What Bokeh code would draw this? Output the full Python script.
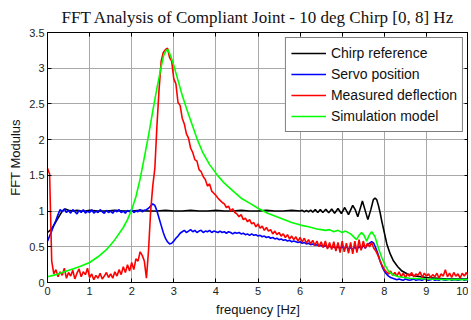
from bokeh.plotting import figure
from bokeh.models import Range1d, FixedTicker, Legend, LegendItem, LinearAxis
from bokeh.embed import file_html
from bokeh.resources import INLINE

# ---------------- data ----------------
title_text = "FFT Analysis of Compliant Joint - 10 deg Chirp [0, 8] Hz"
x_label = "frequency [Hz]"
y_label = "FFT Modulus"
series_names = ["Chirp reference", "Servo position", "Measured deflection", "Simulation model"]
x_ticks = [0, 1, 2, 3, 4, 5, 6, 7, 8, 9, 10]
y_ticks = [0, 0.5, 1, 1.5, 2, 2.5, 3, 3.5]
y_tick_labels = ["0", "0.5", "1", "1.5", "2", "2.5", "3", "3.5"]

# Chirp reference (black)
chirp_f = [0.0, 0.08, 0.15, 0.25, 0.35, 0.42, 0.5, 0.6, 0.7, 0.8, 0.9, 1.0, 1.2, 1.4, 1.6, 1.8, 2.0,
           2.2, 2.4, 2.6, 2.8, 3.0, 3.2, 3.4, 3.6, 3.8, 4.0, 4.2, 4.4, 4.6, 4.8, 5.0, 5.2, 5.4,
           5.6, 5.8, 6.0, 6.05, 6.10, 6.15, 6.20, 6.25, 6.30, 6.36, 6.42, 6.48, 6.54, 6.61, 6.68,
           6.75, 6.82, 6.90, 6.98, 7.06, 7.15, 7.25, 7.31, 7.37, 7.42, 7.48, 7.54, 7.61, 7.68,
           7.74, 7.78, 7.82, 7.86, 7.90, 7.94, 8.00, 8.06, 8.14, 8.22, 8.32, 8.42, 8.55, 8.74,
           9.0, 9.5, 10.0]
chirp_v = [0.70, 0.74, 0.80, 0.90, 1.00, 1.03, 1.01, 1.00, 1.01, 1.00, 1.00, 1.01, 1.00, 1.00, 1.01,
           1.00, 1.00, 1.01, 1.00, 1.00, 1.01, 1.00, 1.00, 1.01, 1.00, 1.00, 1.01, 1.00, 1.00, 1.01,
           1.00, 1.00, 1.01, 1.00, 1.00, 1.01, 1.00, 1.01, 0.99, 1.01, 0.99, 1.015, 0.985, 1.02,
           0.98, 1.02, 0.98, 1.025, 0.975, 1.03, 0.97, 1.035, 0.965, 1.05, 0.95, 1.08, 1.02, 0.92,
           1.02, 1.14, 1.02, 0.88, 1.02, 1.16, 1.18, 1.16, 1.08, 0.98, 0.86, 0.70, 0.54, 0.40, 0.30,
           0.22, 0.16, 0.12, 0.09, 0.07, 0.05, 0.05]

# Servo position (blue), 0..10 Hz every 0.05 Hz
servo_v = [0.58, 0.65, 0.72, 0.80, 0.87, 0.95, 1.02, 0.99, 1.03, 0.98, 1.01, 0.97, 1.02, 0.99, 0.96,
           1.01, 0.98, 1.02, 0.97, 1.00, 0.98, 1.02, 0.97, 1.00, 0.98, 1.02, 0.99, 0.97, 1.01, 0.98,
           1.00, 0.97, 1.01, 0.99, 1.02, 0.98, 1.00, 0.97, 1.01, 0.99, 1.02, 0.98, 1.00, 0.99, 1.02,
           0.99, 1.01, 1.02, 1.04, 1.07, 1.10, 1.08, 1.00, 0.90, 0.80, 0.70, 0.62, 0.57, 0.54, 0.55,
           0.58, 0.62, 0.65, 0.69, 0.71, 0.73, 0.70, 0.72, 0.74, 0.71, 0.73, 0.70, 0.72, 0.73, 0.70,
           0.72, 0.71, 0.73, 0.70, 0.72, 0.71, 0.70, 0.72, 0.70, 0.71, 0.69, 0.71, 0.70, 0.68, 0.70,
           0.69, 0.70, 0.68, 0.69, 0.67, 0.68, 0.66, 0.68, 0.66, 0.67, 0.65, 0.66, 0.64, 0.65, 0.63,
           0.64, 0.62, 0.63, 0.61, 0.62, 0.60, 0.61, 0.59, 0.60, 0.58, 0.59, 0.57, 0.58, 0.57, 0.56,
           0.57, 0.55, 0.56, 0.54, 0.55, 0.53, 0.54, 0.52, 0.53, 0.51, 0.52, 0.50, 0.52, 0.49, 0.51,
           0.49, 0.50, 0.48, 0.50, 0.48, 0.50, 0.47, 0.50, 0.47, 0.49, 0.46, 0.50, 0.46, 0.51, 0.47,
           0.52, 0.48, 0.53, 0.55, 0.57, 0.55, 0.48, 0.40, 0.30, 0.22, 0.16, 0.12, 0.09, 0.07, 0.06,
           0.05, 0.04, 0.05, 0.04, 0.03, 0.05, 0.04, 0.03, 0.04, 0.05, 0.03, 0.04, 0.04, 0.03, 0.05,
           0.04, 0.03, 0.04, 0.05, 0.03, 0.04, 0.03, 0.05, 0.04, 0.03, 0.04, 0.05, 0.03, 0.04, 0.04,
           0.03, 0.04, 0.05, 0.03, 0.04, 0.04]

# Measured deflection (red), 0..10 Hz every 0.05 Hz
meas_v = [1.60, 1.52, 0.30, 0.12, 0.18, 0.08, 0.15, 0.10, 0.20, 0.06, 0.14, 0.09, 0.17, 0.05, 0.13,
          0.19, 0.08, 0.15, 0.11, 0.20, 0.07, 0.12, 0.04, 0.10, 0.06, 0.13, 0.05, 0.09, 0.14, 0.07,
          0.12, 0.06, 0.15, 0.09, 0.18, 0.11, 0.22, 0.14, 0.25, 0.16, 0.28, 0.18, 0.33, 0.30, 0.43,
          0.38, 0.30, 0.06, 0.45, 1.00, 1.35, 1.60, 2.20, 2.70, 3.10, 3.22, 3.26, 3.28, 3.15, 3.10,
          2.85, 2.78, 2.52, 2.48, 2.30, 2.22, 2.08, 2.02, 1.88, 1.82, 1.72, 1.70, 1.58, 1.55, 1.48,
          1.44, 1.35, 1.38, 1.28, 1.25, 1.22, 1.18, 1.15, 1.12, 1.10, 1.05, 1.07, 1.00, 1.03, 0.98,
          0.96, 0.92, 0.95, 0.88, 0.90, 0.85, 0.88, 0.82, 0.84, 0.78, 0.82, 0.76, 0.79, 0.73, 0.77,
          0.72, 0.74, 0.68, 0.72, 0.67, 0.70, 0.65, 0.68, 0.63, 0.67, 0.61, 0.65, 0.60, 0.64, 0.58,
          0.63, 0.57, 0.62, 0.55, 0.60, 0.54, 0.59, 0.52, 0.58, 0.50, 0.57, 0.49, 0.58, 0.47, 0.56,
          0.46, 0.57, 0.44, 0.56, 0.42, 0.58, 0.43, 0.55, 0.41, 0.56, 0.40, 0.58, 0.42, 0.60, 0.45,
          0.58, 0.48, 0.55, 0.50, 0.56, 0.48, 0.44, 0.38, 0.30, 0.24, 0.18, 0.15, 0.12, 0.16, 0.10,
          0.14, 0.09, 0.15, 0.08, 0.13, 0.07, 0.12, 0.09, 0.14, 0.08, 0.12, 0.10, 0.15, 0.07, 0.13,
          0.09, 0.12, 0.07, 0.11, 0.08, 0.13, 0.06, 0.12, 0.09, 0.18, 0.08, 0.13, 0.07, 0.14, 0.09,
          0.12, 0.06, 0.13, 0.09, 0.14, 0.08]
step_f = [round(i * 0.05, 2) for i in range(len(meas_v))]

# Simulation model (green)
sim_f = [0.0, 0.2, 0.4, 0.6, 0.8, 1.0, 1.2, 1.4, 1.6, 1.8, 1.9, 2.0, 2.1, 2.2, 2.3, 2.4, 2.5, 2.6,
         2.7, 2.76, 2.82, 2.86, 2.92, 3.0, 3.1, 3.2, 3.3, 3.44, 3.56, 3.68, 3.85, 4.04, 4.2, 4.43,
         4.6, 4.83, 5.0, 5.23, 5.4, 5.63, 5.8, 6.03, 6.2, 6.4, 6.5, 6.6, 6.7, 6.8, 6.9, 7.0, 7.08,
         7.2, 7.34, 7.40, 7.46, 7.52, 7.58, 7.64, 7.70, 7.78, 7.86, 7.94, 8.02, 8.1, 8.2, 8.34,
         8.6, 9.0, 9.5, 10.0]
sim_v = [0.08, 0.11, 0.15, 0.19, 0.23, 0.28, 0.36, 0.46, 0.60, 0.77, 0.88, 1.02, 1.20, 1.45, 1.75,
         2.06, 2.40, 2.72, 3.02, 3.18, 3.25, 3.26, 3.18, 3.04, 2.83, 2.62, 2.44, 2.20, 2.00, 1.83,
         1.65, 1.50, 1.39, 1.27, 1.18, 1.10, 1.04, 0.97, 0.93, 0.88, 0.84, 0.80, 0.78, 0.75, 0.74,
         0.73, 0.74, 0.71, 0.73, 0.70, 0.72, 0.68, 0.60, 0.66, 0.70, 0.66, 0.58, 0.66, 0.71, 0.64,
         0.48, 0.35, 0.24, 0.16, 0.11, 0.08, 0.06, 0.05, 0.04, 0.04]

series_f = [chirp_f, step_f, step_f, sim_f]
series_v = [chirp_v, servo_v, meas_v, sim_v]
series_colors = ["#000000", "#0000ff", "#ff0000", "#00ff00"]

# ---------------- figure ----------------
p = figure(width=468, height=319, output_backend="svg", toolbar_location=None,
           x_range=Range1d(0, 10), y_range=Range1d(0, 3.5),
           min_border_left=47, min_border_right=0, min_border_top=32, min_border_bottom=34)

bottom_axis = p.below[0]
left_axis = p.left[0]

p.title.text = title_text
p.title.align = "center"
p.title.text_font = "Liberation Serif"
p.title.text_font_size = "17px"
p.title.text_font_style = "normal"
p.title.text_color = "#111111"
p.title.standoff = 11

p.outline_line_color = "black"
p.outline_line_width = 1
p.background_fill_color = "white"
p.border_fill_color = "white"

# inward ticks on the top and right edges (matlab-style box)
top_axis = LinearAxis(ticker=FixedTicker(ticks=x_ticks),
                      major_label_overrides={t: "" for t in x_ticks})
right_axis = LinearAxis(ticker=FixedTicker(ticks=y_ticks),
                        major_label_overrides={t: "" for t in y_ticks})
for ax in (top_axis, right_axis):
    ax.major_label_standoff = 0
    ax.major_label_text_font_size = "1px"
p.add_layout(top_axis, "above")
p.add_layout(right_axis, "right")

for ax in (bottom_axis, left_axis, top_axis, right_axis):
    ax.axis_line_color = "black"
    ax.major_tick_line_color = "black"
    ax.major_tick_in = 4
    ax.major_tick_out = 0
    ax.minor_tick_line_color = None

for ax in (bottom_axis, left_axis):
    ax.major_label_text_font = "Liberation Sans"
    ax.major_label_text_font_size = "11px"
    ax.major_label_text_color = "#222222"
    ax.axis_label_text_font = "Liberation Sans"
    ax.axis_label_text_font_size = "13px"
    ax.axis_label_text_font_style = "normal"
    ax.axis_label_text_color = "#111111"

bottom_axis.major_label_standoff = 4
left_axis.major_label_standoff = 3
bottom_axis.ticker = FixedTicker(ticks=x_ticks)
left_axis.ticker = FixedTicker(ticks=y_ticks)
left_axis.major_label_overrides = {t: s for t, s in zip(y_ticks, y_tick_labels)}
bottom_axis.axis_label = x_label
left_axis.axis_label = y_label
bottom_axis.axis_label_standoff = 4
left_axis.axis_label_standoff = 3

p.xgrid.grid_line_color = "#a8a8a8"
p.ygrid.grid_line_color = "#a8a8a8"
p.xgrid.grid_line_width = 1
p.ygrid.grid_line_width = 1

items = []
for name, fx, fy, col in zip(series_names, series_f, series_v, series_colors):
    r = p.line(fx, fy, line_color=col, line_width=1.6)
    items.append(LegendItem(label=name, renderers=[r]))

legend = Legend(items=items, location="top_right")
legend.margin = 5
legend.padding = 5
legend.spacing = 1
legend.glyph_width = 35
legend.glyph_height = 20
legend.label_height = 20
legend.label_standoff = 5
legend.label_text_font = "Liberation Sans"
legend.label_text_font_size = "14px"
legend.label_text_color = "#111111"
legend.border_line_color = "black"
legend.border_line_width = 1
legend.background_fill_color = "white"
legend.background_fill_alpha = 1
p.add_layout(legend, "center")

open("out.html", "w").write(file_html(p, INLINE))
